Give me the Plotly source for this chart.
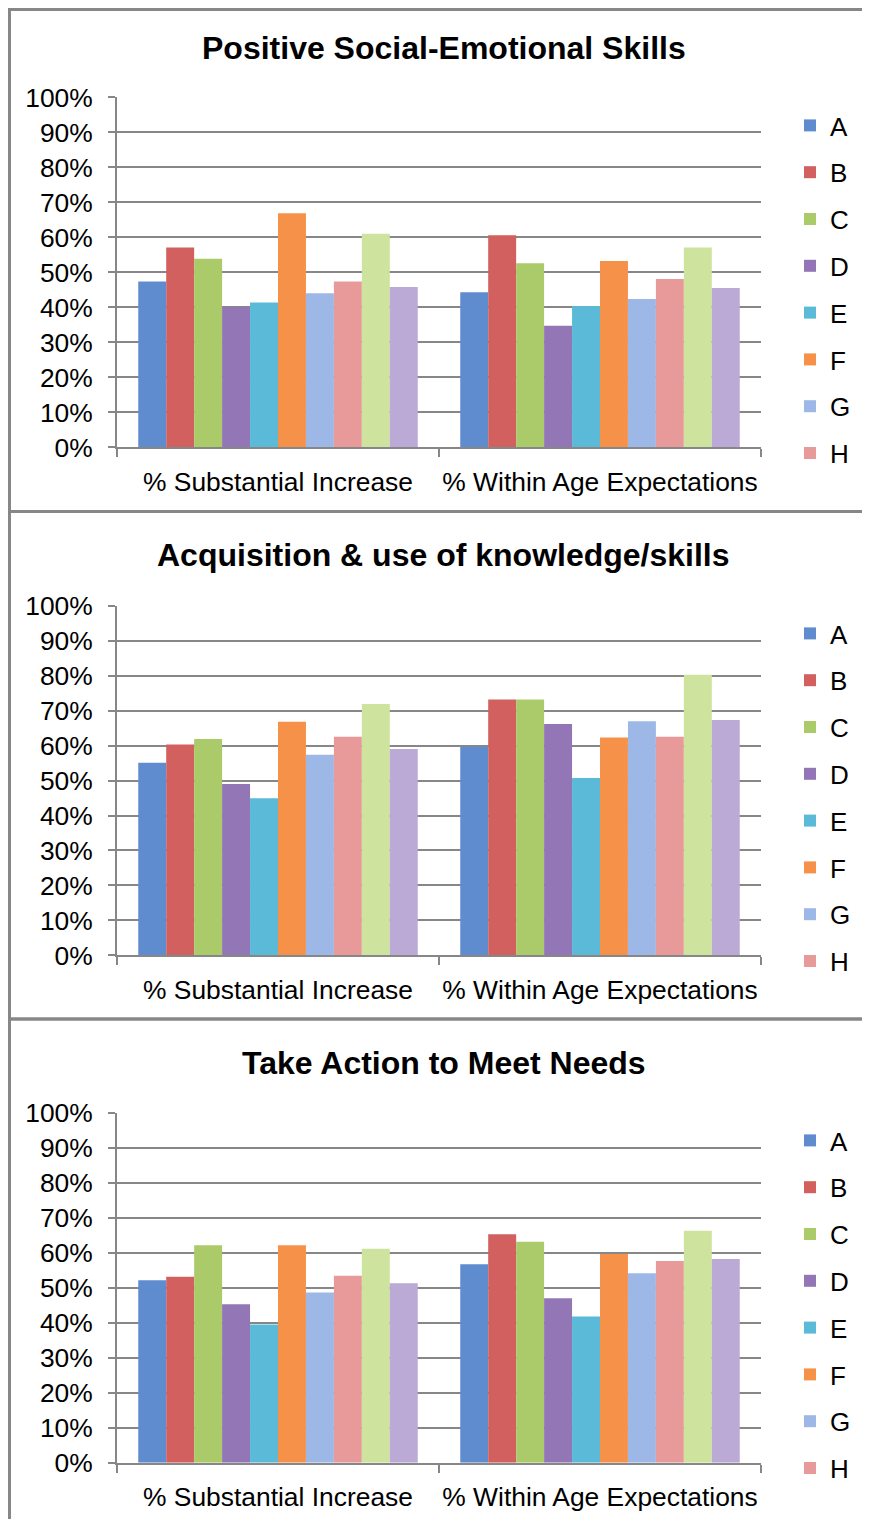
import plotly.graph_objects as go
from plotly.subplots import make_subplots

W, H = 870, 1519
OFF = 8  # the page body margin shifts the figure by this much

categories = ["% Substantial Increase", "% Within Age Expectations"]
groups = ["A", "B", "C", "D", "E", "F", "G", "H", "I", "J"]

# values in %, one list per category, in group order A..J
social_increase = [47.4, 57.1, 53.9, 40.1, 41.4, 66.9, 44.0, 47.4, 61.0, 45.8]
social_within = [44.3, 60.6, 52.6, 34.7, 40.4, 53.2, 42.4, 48.1, 57.1, 45.5]

knowledge_increase = [55.1, 60.3, 61.9, 49.0, 44.9, 66.8, 57.4, 62.5, 71.9, 59.0]
knowledge_within = [59.7, 73.2, 73.2, 66.2, 50.7, 62.3, 67.0, 62.5, 80.3, 67.3]

action_increase = [52.1, 53.1, 62.1, 45.3, 39.5, 62.1, 48.6, 53.4, 61.1, 51.3]
action_within = [56.7, 65.3, 63.1, 47.0, 41.8, 59.6, 54.1, 57.6, 66.3, 58.2]

titles = ["Positive Social-Emotional Skills",
          "Acquisition & use of knowledge/skills",
          "Take Action to Meet Needs"]

bar_colors = ["#5f8bcf", "#d2605e", "#abcb6a", "#9276b5", "#5cbad9",
              "#f6914a", "#9db8e6", "#e89999", "#cde39e", "#bba9d6"]

panels = [(social_increase, social_within),
          (knowledge_increase, knowledge_within),
          (action_increase, action_within)]

FONT = "Liberation Sans, Arial, sans-serif"
GRID = "#878787"


def px(x):
    # page column -> paper fraction
    return (x - OFF) / W


def py(y):
    # page row -> paper fraction
    return 1 - (y - OFF) / H


# page geometry of each panel: (zero line y, 100% line y, frame top, legend top)
geo = [(447.3, 97.3, 4, 102),
       (955.3, 605.8, 511.5, 610),
       (1462.7, 1112.7, 1019, 1117)]

fig = make_subplots(rows=3, cols=1)

for p, (inc, within) in enumerate(panels):
    leg = "legend" if p == 0 else "legend%d" % (p + 1)
    for j, g in enumerate(groups):
        fig.add_trace(go.Bar(x=categories, y=[inc[j], within[j]], name=g,
                             marker=dict(color=bar_colors[j], line=dict(width=0)),
                             legend=leg, legendgroup="%s%d" % (g, p),
                             showlegend=j < 8),
                      row=p + 1, col=1)

layout = dict(width=W, height=H,
              margin=dict(l=0, r=0, t=0, b=0, pad=0, autoexpand=False),
              paper_bgcolor="white", plot_bgcolor="white",
              barmode="group", bargap=0.132, bargroupgap=0,
              font=dict(family=FONT, size=26, color="black"),
              shapes=[], annotations=[])

for p, (y0, y100, ftop, ltop) in enumerate(geo):
    sfx = "" if p == 0 else str(p + 1)
    layout["xaxis" + sfx] = dict(domain=[px(117), px(761)], showline=True,
                                 linecolor=GRID, linewidth=2, ticks="outside",
                                 tickson="boundaries", ticklen=8, tickwidth=2,
                                 tickcolor=GRID, showgrid=False, tickangle=0,
                                 automargin=False,
                                 tickfont=dict(size=26.4), ticklabelstandoff=10)
    layout["yaxis" + sfx] = dict(domain=[py(y0), py(y100)], range=[0, 100],
                                 dtick=10, ticksuffix="%", showline=True,
                                 linecolor=GRID, linewidth=2, ticks="outside",
                                 ticklen=7, tickwidth=2, tickcolor=GRID,
                                 showgrid=True, gridcolor=GRID, gridwidth=2,
                                 zeroline=False, tickfont=dict(size=26.4),
                                 automargin=False, ticklabelstandoff=10)
    layout["legend" + sfx] = dict(x=px(790), y=py(ltop), xanchor="left",
                                  yanchor="top", bgcolor="rgba(0,0,0,0)",
                                  font=dict(size=26), tracegroupgap=10,
                                  itemclick=False, itemdoubleclick=False)
    layout["annotations"].append(dict(text="<b>%s</b>" % titles[p], x=px(444),
                                      y=py(ftop + 44), xref="paper", yref="paper",
                                      showarrow=False, xanchor="center",
                                      yanchor="middle", font=dict(size=32)))
    ybottom = geo[p + 1][2] if p < 2 else H + 20
    ytop = max(ftop, OFF + 1.5)
    layout["shapes"].append(dict(type="rect", xref="paper", yref="paper",
                                 x0=px(OFF + 1.5), x1=1.05, y0=py(ybottom),
                                 y1=py(ytop), line=dict(color=GRID, width=3)))

fig.update_layout(**layout)

fig.write_html("out.html")
